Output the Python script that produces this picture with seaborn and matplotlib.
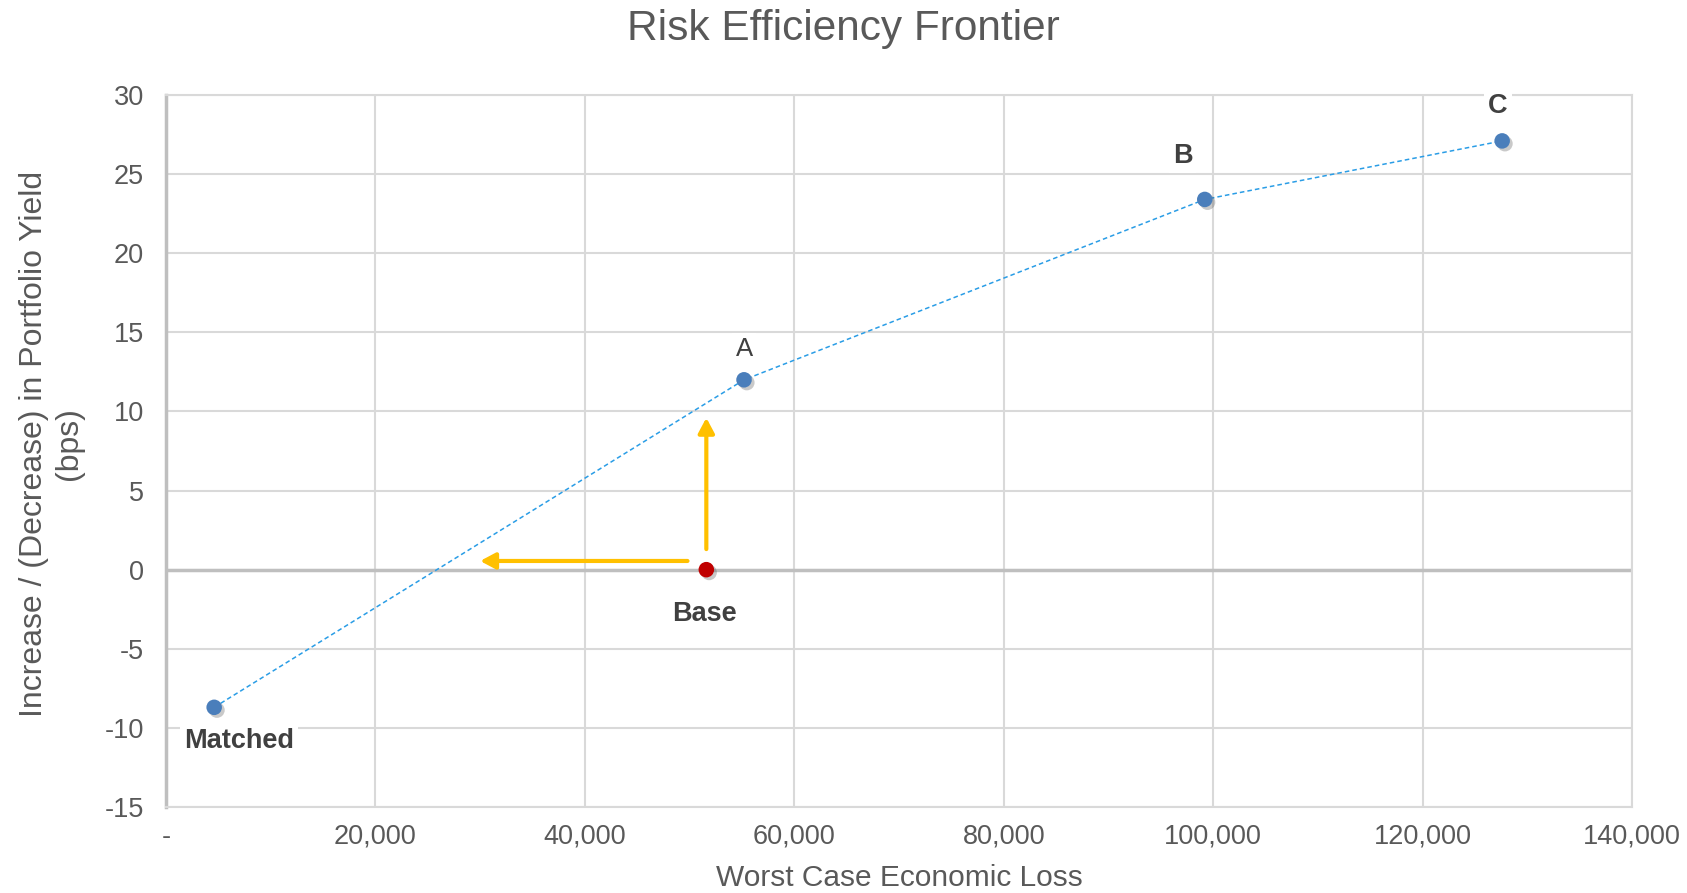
import numpy as np
import pandas as pd
import matplotlib
matplotlib.use("Agg")
import matplotlib.pyplot as plt
import matplotlib.patheffects as pe
from matplotlib.ticker import FuncFormatter
import seaborn as sns

# ============================================================
# DATA
# ============================================================

frontier_names = ["Matched", "A", "B", "C"]
frontier_loss = [4600, 55200, 99200, 127600]
frontier_yield = [-8.7, 12.0, 23.4, 27.1]

base_name = "Base"
base_loss = 51600
base_yield = 0.0

# yellow arrows out of the base point (start -> end)
arrow_left = [(49800, 0.55), (30000, 0.55)]
arrow_up = [(51600, 1.3), (51600, 9.6)]

x_ticks = [0, 20000, 40000, 60000, 80000, 100000, 120000, 140000]
y_ticks = [-15, -10, -5, 0, 5, 10, 15, 20, 25, 30]

df = pd.DataFrame({"name": frontier_names, "loss": frontier_loss, "yield": frontier_yield})

# ============================================================
# STYLE
# ============================================================

sns.set_theme(style="whitegrid")
plt.rcParams["font.family"] = ["Liberation Sans", "DejaVu Sans"]
plt.rcParams["axes.unicode_minus"] = False

TEXT = "#595959"
LABEL = "#404040"
GRID = "#d9d9d9"

fig = plt.figure(figsize=(16.87, 8.93), dpi=100)
ax = fig.add_axes([0.0984, 0.0963, 0.8690, 0.7973])

# frontier line + points
sns.lineplot(data=df, x="loss", y="yield", ax=ax, color="#2a9de6",
             linestyle=(0, (3, 2)), linewidth=1.1, sort=False, zorder=3)
shadow = [pe.SimplePatchShadow(offset=(2, -2), shadow_rgbFace=(0.3, 0.3, 0.3), alpha=0.3),
          pe.Normal()]
sns.scatterplot(data=df, x="loss", y="yield", ax=ax, color="#4a7ebb",
                s=125, edgecolor="none", zorder=5)
ax.collections[-1].set_path_effects(shadow)
ax.scatter([base_loss], [base_yield], color="#c00000", s=125,
           edgecolor="none", zorder=5, path_effects=shadow)

# arrows
for (x0, y0), (x1, y1) in [arrow_left, arrow_up]:
    ax.annotate("", xy=(x1, y1), xytext=(x0, y0),
                arrowprops=dict(arrowstyle="-|>,head_length=0.75,head_width=0.4",
                                color="#ffc000", lw=3, shrinkA=0, shrinkB=0),
                zorder=4)

# point labels
offsets = {"Matched": (18, -24), "A": (0, 22), "B": (-16, 31), "C": (-3, 25)}
bold = {"Matched": True, "A": False, "B": True, "C": True}
for name, x, y in zip(frontier_names, frontier_loss, frontier_yield):
    ax.annotate(name, (x, y), xytext=offsets[name], textcoords="offset points",
                ha="center", va="center", fontsize=19.5 if bold[name] else 18.5,
                fontweight="bold" if bold[name] else "normal", color=LABEL,
                bbox=dict(boxstyle="square,pad=0.15", fc="white", ec="none"),
                zorder=6)
ax.annotate(base_name, (base_loss, base_yield), xytext=(-1.5, -32),
            textcoords="offset points", ha="center", va="center",
            fontsize=19.5, fontweight="bold", color=LABEL, zorder=6)

# axes
ax.set_xlim(0, 140000)
ax.set_ylim(-15, 30)
ax.set_xticks(x_ticks)
ax.set_yticks(y_ticks)
ax.xaxis.set_major_formatter(FuncFormatter(lambda v, p: "-" if v == 0 else f"{v:,.0f}"))
ax.tick_params(axis="both", length=0, labelsize=19.5, labelcolor=TEXT)
ax.tick_params(axis="y", pad=16)
ax.tick_params(axis="x", pad=12)
ax.grid(True, color=GRID, linewidth=1.5)
ax.set_axisbelow(True)
ax.axhline(0, color="#bfbfbf", linewidth=2.5, zorder=1)

for side in ["top", "right", "bottom"]:
    ax.spines[side].set_color(GRID)
    ax.spines[side].set_linewidth(1.5)
ax.spines["left"].set_color("#bfbfbf")
ax.spines["left"].set_linewidth(2.5)

ax.set_xlabel("Worst Case Economic Loss", fontsize=21.5, color=TEXT, labelpad=10)
ax.set_ylabel("Increase / (Decrease) in Portfolio Yield\n(bps)", fontsize=23,
              color=TEXT, linespacing=1.2)
ax.yaxis.set_label_coords(-0.056, 0.51)
fig.suptitle("Risk Efficiency Frontier", fontsize=30.5, color=TEXT, x=0.5, y=0.968,
             va="center")

fig.savefig("out.png", dpi=100)
